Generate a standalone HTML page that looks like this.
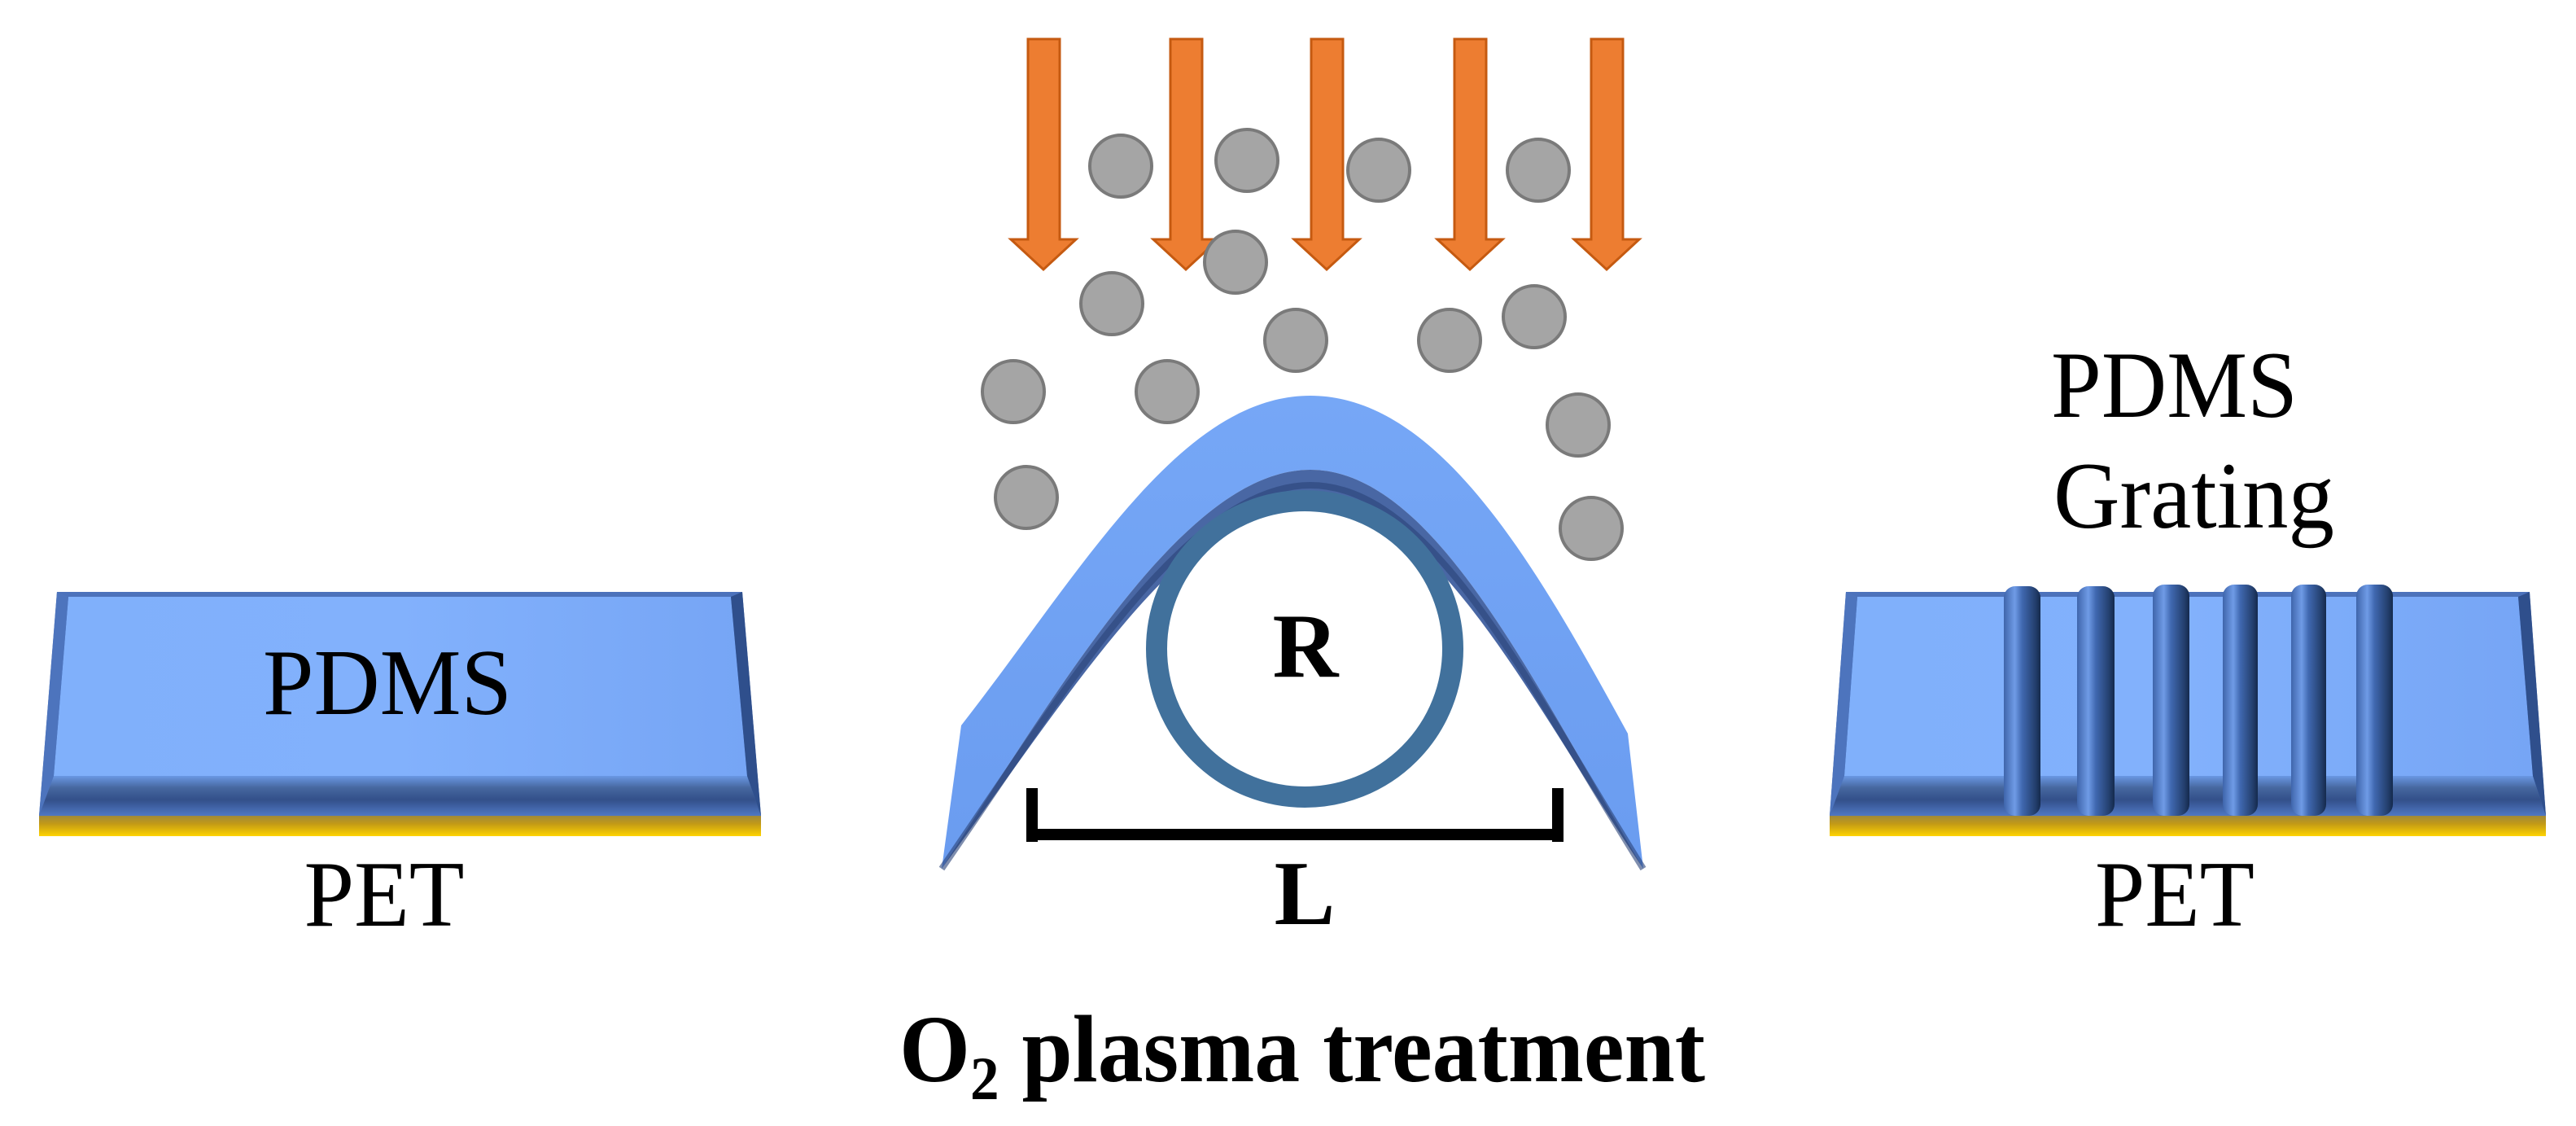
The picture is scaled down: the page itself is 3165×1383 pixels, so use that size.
<!DOCTYPE html>
<html><head><meta charset="utf-8"><style>
html,body{margin:0;padding:0;background:#fff;}
svg{display:block;}
text{font-family:"Liberation Serif",serif;fill:#000;}
</style></head><body>
<svg width="3165" height="1383" viewBox="0 0 3165 1383" xmlns="http://www.w3.org/2000/svg">
<defs>
<linearGradient id="face" x1="0" y1="0" x2="1" y2="0">
<stop offset="0" stop-color="#80b0fb"/><stop offset="0.5" stop-color="#82b1fc"/><stop offset="1" stop-color="#76a5f5"/>
</linearGradient>
<linearGradient id="band" x1="0" y1="0" x2="0" y2="1">
<stop offset="0" stop-color="#6a98e4"/><stop offset="0.3" stop-color="#46679f"/><stop offset="0.6" stop-color="#33508a"/><stop offset="1" stop-color="#4f78c4"/>
</linearGradient>
<linearGradient id="pet" x1="0" y1="0" x2="0" y2="1">
<stop offset="0" stop-color="#a0893a"/><stop offset="0.4" stop-color="#c39a16"/><stop offset="1" stop-color="#ffd400"/>
</linearGradient>
<linearGradient id="ridge" x1="0" y1="0" x2="1" y2="0">
<stop offset="0" stop-color="#3f65ab"/><stop offset="0.3" stop-color="#6f9be6"/><stop offset="0.5" stop-color="#4068b0"/><stop offset="0.85" stop-color="#24406f"/><stop offset="1" stop-color="#152a4d"/>
</linearGradient>
<linearGradient id="arch" x1="0" y1="0" x2="0" y2="1">
<stop offset="0" stop-color="#76a7f6"/><stop offset="1" stop-color="#6a9cf0"/>
</linearGradient>
</defs>

<!-- Left slab -->
<polygon points="48,1027 935,1027 935,1002 48,1002" fill="url(#pet)"/>
<polygon points="70,727 912,727 935,1002 48,1002" fill="#4c72bb"/>
<polygon points="84,733 898,733 918,953 66,953" fill="url(#face)"/>
<polygon points="66,953 918,953 935,1002 48,1002" fill="url(#band)"/>
<polygon points="70,727 84,733 66,953 48,1002" fill="#4d74bd"/>
<polygon points="912,727 898,733 918,953 935,1002" fill="#2f4f8c"/>
<text x="476" y="877" font-size="115" text-anchor="middle" textLength="306" lengthAdjust="spacingAndGlyphs">PDMS</text>
<text x="472" y="1137" font-size="115" text-anchor="middle" textLength="197" lengthAdjust="spacingAndGlyphs">PET</text>

<!-- Right slab -->
<polygon points="2248,1027 3128,1027 3128,1002 2248,1002" fill="url(#pet)"/>
<polygon points="2268,727 3108,727 3128,1002 2248,1002" fill="#4c72bb"/>
<polygon points="2282,733 3094,733 3112,953 2266,953" fill="url(#face)"/>
<polygon points="2266,953 3112,953 3128,1002 2248,1002" fill="url(#band)"/>
<polygon points="2268,727 2282,733 2266,953 2248,1002" fill="#4d74bd"/>
<polygon points="3108,727 3094,733 3112,953 3128,1002" fill="#2f4f8c"/>
<g fill="url(#ridge)">
<rect x="2462" y="720" width="45" height="282" rx="14"/>
<rect x="2552" y="720" width="46" height="282" rx="14"/>
<rect x="2645" y="718" width="45" height="284" rx="14"/>
<rect x="2731" y="718" width="43" height="284" rx="14"/>
<rect x="2815" y="718" width="43" height="284" rx="14"/>
<rect x="2895" y="718" width="45" height="284" rx="14"/>
</g>
<text x="2520" y="512" font-size="117" textLength="303" lengthAdjust="spacingAndGlyphs">PDMS</text>
<text x="2523" y="648" font-size="117" textLength="345" lengthAdjust="spacingAndGlyphs">Grating</text>
<text x="2672" y="1137" font-size="115" text-anchor="middle" textLength="196" lengthAdjust="spacingAndGlyphs">PET</text>

<!-- Arrows -->
<g fill="#ed7d31" stroke="#c55a11" stroke-width="3">
<polygon points="1263,48 1302,48 1302,294 1322,294 1282,331 1242,294 1263,294"/>
<polygon points="1438,48 1477,48 1477,294 1497,294 1457,331 1417,294 1438,294"/>
<polygon points="1611,48 1650,48 1650,294 1670,294 1630,331 1590,294 1611,294"/>
<polygon points="1787,48 1826,48 1826,294 1846,294 1806,331 1766,294 1787,294"/>
<polygon points="1955,48 1994,48 1994,294 2014,294 1974,331 1934,294 1955,294"/>
</g>

<!-- Particles -->
<g fill="#a5a5a5" stroke="#7a7a7a" stroke-width="4">
<circle cx="1377" cy="204" r="38"/><circle cx="1532" cy="197" r="38"/><circle cx="1694" cy="209" r="38"/><circle cx="1890" cy="209" r="38"/>
<circle cx="1518" cy="322" r="38"/><circle cx="1366" cy="373" r="38"/><circle cx="1592" cy="418" r="38"/><circle cx="1781" cy="418" r="38"/>
<circle cx="1885" cy="389" r="38"/><circle cx="1245" cy="481" r="38"/><circle cx="1434" cy="481" r="38"/><circle cx="1939" cy="522" r="38"/>
<circle cx="1261" cy="611" r="38"/><circle cx="1955" cy="649" r="38"/>
</g>

<!-- Arch -->
<path d="M1181,891 C1330,700 1450,486 1610,486 C1770,486 1890,700 2000,901 L2019,1067 C1880,830 1760,577 1610,577 C1460,577 1310,830 1157,1067 Z" fill="url(#arch)"/>
<path d="M2019,1067 C1880,830 1760,577 1610,577 C1460,577 1310,830 1157,1067 C1310,860 1460,612 1610,612 C1760,612 1880,860 2019,1067 Z" fill="#35579a" opacity="0.9"/>
<path d="M1157,1067 C1310,845 1460,596 1610,596 C1760,596 1880,845 2019,1067" fill="none" stroke="#2a4278" stroke-width="8" opacity="0.6"/>

<!-- Ring -->
<circle cx="1603" cy="797" r="182" fill="none" stroke="#41719c" stroke-width="26"/>
<text x="1604" y="831" font-size="112" font-weight="bold" text-anchor="middle">R</text>

<!-- L bar -->
<rect x="1261" y="968" width="14" height="66" fill="#000"/>
<rect x="1907" y="968" width="14" height="66" fill="#000"/>
<rect x="1261" y="1018" width="660" height="14" fill="#000"/>
<text x="1603" y="1135" font-size="112" font-weight="bold" text-anchor="middle">L</text>

<!-- Caption -->
<text x="1105" y="1328" font-size="118" font-weight="bold" textLength="990" lengthAdjust="spacingAndGlyphs">O<tspan font-size="75" dy="22">2</tspan><tspan dy="-22"> plasma treatment</tspan></text>
</svg>
</body></html>
